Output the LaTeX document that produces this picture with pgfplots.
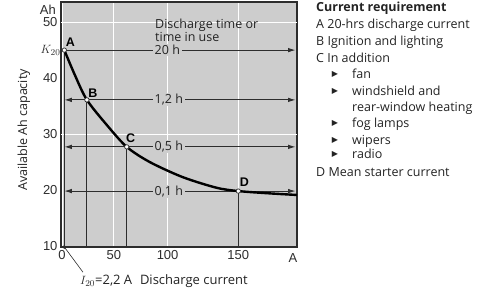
\documentclass[border=0pt]{standalone}
\usepackage{pgfplots}
\pgfplotsset{compat=1.18}
\usepackage{fontspec}
\setmainfont{Open Sans}
\newfontfamily\tickfont{Liberation Sans}
\newfontfamily\symfont{DejaVu Sans}
\usetikzlibrary{arrows.meta}
\definecolor{bg}{RGB}{205,205,205}
\definecolor{ln}{RGB}{45,45,45}
\definecolor{txt}{RGB}{35,35,35}
\tikzset{arr/.tip={Latex[length=7.5pt,width=4.5pt]}}
\begin{document}
\begin{tikzpicture}[x=1pt,y=1pt]
\begin{axis}[
  scale only axis, width=236pt, height=245pt,
  xmin=-1, xmax=191.5, ymin=9.8, ymax=53.6,
  x coord trafo/.code={\pgfmathparse{((#1)<50)*1.04*(#1) + ((#1)>=50)*((#1)<100)*(52+1.08*((#1)-50)) + ((#1)>=100)*(106+1.42*((#1)-100))}},
  x coord inv trafo/.code={\pgfmathparse{((#1)<52)*(#1)/1.04 + ((#1)>=52)*((#1)<106)*(50+((#1)-52)/1.08) + ((#1)>=106)*(100+((#1)-106)/1.42)}},
  xtick={0,50,100,150}, xticklabels={0,50,100,150},
  ytick={10,20,30,40,50}, yticklabels={10,20,30,40,50},
  extra y ticks={45}, extra y tick labels={$K_{20}$},
  extra y tick style={yticklabel style={xshift=3pt}},
  major tick length=0pt,
  ticklabel style={font=\tickfont\fontsize{13}{13}\selectfont, text=ln},
  axis background/.style={fill=bg},
  axis line style={draw=ln, line width=1.3pt},
  xmajorgrids, major grid style={white, line width=1pt},
  clip=false,
]
% white horizontal grid lines
\addplot[white, line width=1pt, forget plot] coordinates {(-1,30) (191.5,30)};
\addplot[white, line width=1pt, forget plot] coordinates {(-1,50) (191.5,50)};
% vertical drop lines
\addplot[ln, line width=0.9pt] coordinates {(2.2,9.8) (2.2,45.0)};
\addplot[ln, line width=0.9pt] coordinates {(24,9.8) (24,36.1)};
\addplot[ln, line width=0.9pt] coordinates {(62,9.8) (62,27.7)};
\addplot[ln, line width=0.9pt] coordinates {(150,9.8) (150,19.8)};
% horizontal discharge-time lines
\addplot[ln, line width=0.9pt, -arr] coordinates {(2.2,45.0) (190.5,45.0)};
\addplot[ln, line width=0.9pt, arr-arr] coordinates {(2.2,36.1) (190.5,36.1)};
\addplot[ln, line width=0.9pt, arr-arr] coordinates {(2.2,27.7) (190.5,27.7)};
\addplot[ln, line width=0.9pt, arr-arr] coordinates {(2.2,19.8) (190.5,19.8)};
% capacity curve
\addplot[black, line width=2.4pt, smooth, tension=0.5] coordinates {
  (2.2,45.0) (12.5,40.5) (24,36.1) (43.3,31.6) (62,27.7) (83.3,25.0)
  (110.6,22.3) (134.5,20.4) (150,19.8) (171.4,19.4) (191.5,19.1)};
% points
\addplot[only marks, mark=*, mark size=2.2pt, mark options={fill=white, draw=ln, line width=0.7pt}]
  coordinates {(2.2,45.0) (24,36.1) (62,27.7) (150,19.8)};
% leader line and dot for I20
\addplot[ln, line width=0.6pt] coordinates {(2.2,9.8) (20.2,5.3)};
\addplot[only marks, mark=*, mark size=1.6pt, ln] coordinates {(2.2,9.8)};
% point letters
\node[font=\tickfont\bfseries\fontsize{12.5}{12.5}\selectfont, inner sep=0pt] at (axis cs:2.2,45.0) [xshift=6pt, yshift=8pt] {A};
\node[font=\tickfont\bfseries\fontsize{12.5}{12.5}\selectfont, inner sep=0pt] at (axis cs:24,36.1) [xshift=6pt, yshift=7pt] {B};
\node[font=\tickfont\bfseries\fontsize{12.5}{12.5}\selectfont, inner sep=0pt] at (axis cs:62,27.7) [xshift=4pt, yshift=9pt] {C};
\node[font=\tickfont\bfseries\fontsize{12.5}{12.5}\selectfont, inner sep=0pt] at (axis cs:150,19.8) [xshift=6pt, yshift=9pt] {D};
% time labels on lines
\node[anchor=west, fill=bg, inner xsep=2pt, inner ysep=1pt, text=txt, font=\fontsize{12.5}{12.5}\selectfont] at (axis cs:86,45.0) {20 h};
\node[anchor=west, fill=bg, inner xsep=2pt, inner ysep=1pt, text=txt, font=\fontsize{12.5}{12.5}\selectfont] at (axis cs:86,36.1) {1,2 h};
\node[anchor=west, fill=bg, inner xsep=2pt, inner ysep=1pt, text=txt, font=\fontsize{12.5}{12.5}\selectfont] at (axis cs:86,27.7) {0,5 h};
\node[anchor=west, fill=bg, inner xsep=2pt, inner ysep=1pt, text=txt, font=\fontsize{12.5}{12.5}\selectfont] at (axis cs:86,19.8) {0,1 h};
\end{axis}
% texts inside plot
\begin{scope}[every node/.style={inner sep=0pt, anchor=base west, text=txt, font=\fontsize{12.5}{12.5}\selectfont}]
\node at (94,218.5) {Discharge time or};
\node at (94,205.5) {time in use};
\end{scope}
% axis annotations
\node[inner sep=0pt, anchor=east, text=ln, font=\tickfont\fontsize{13}{13}\selectfont] at (-5,237) {Ah};
\node[inner sep=0pt, text=ln, font=\tickfont\fontsize{13}{13}\selectfont] at (232,-11) {A};
\node[inner sep=0pt, rotate=90, text=txt, font=\fontsize{12.5}{12.5}\selectfont] at (-37,117) {Available Ah capacity};
\node[inner sep=0pt, anchor=base west, text=txt, font=\fontsize{12.5}{12.5}\selectfont] at (19,-37.5) {\fontsize{13}{13}\selectfont$I_{20}$=2,2 A\hspace{0.6em}Discharge current};
% legend
\begin{scope}[every node/.style={inner sep=0pt, anchor=base west, text=txt, font=\fontsize{12.5}{12.5}\selectfont}]
\node[font=\bfseries\fontsize{12.5}{12.5}\selectfont] at (255,235.5) {Current requirement};
\node at (255,218.5) {A 20-hrs discharge current};
\node at (255,201.5) {B Ignition and lighting};
\node at (255,184.5) {C In addition};
\node at (291,168.5) {fan};
\node at (291,151.5) {windshield and};
\node at (291,135.5) {rear-window heating};
\node at (291,119.5) {fog lamps};
\node at (291,102.5) {wipers};
\node at (291,88.5) {radio};
\node at (255,70.5) {D Mean starter current};
\end{scope}
\begin{scope}[every node/.style={inner sep=0pt, anchor=center, text=txt, font=\symfont\fontsize{8}{8}\selectfont}]
\node at (274,173) {▶};
\node at (274,156) {▶};
\node at (274,124) {▶};
\node at (274,107) {▶};
\node at (274,93) {▶};
\end{scope}
\path[use as bounding box] (-61,-43) rectangle (435,247);
\end{tikzpicture}
\end{document}
